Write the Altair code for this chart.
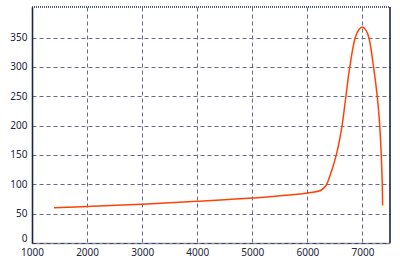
import altair as alt
import pandas as pd

# data
wavelength = [1400, 2000, 3000, 4000, 5000, 6000, 6254, 6344, 6404, 6464, 6525,
              6585, 6630, 6700, 6770, 6870, 6940, 6996, 7060, 7116, 7201, 7268,
              7310, 7340, 7359, 7366]
value = [60, 62, 66, 71, 76.5, 85, 90.3, 98.8, 113, 130, 150,
         176, 200, 250, 300, 350, 364, 368, 363, 350, 300, 250,
         205, 153, 102, 64]
x_ticks = [1000, 2000, 3000, 4000, 5000, 6000, 7000]
y_ticks = [0, 50, 100, 150, 200, 250, 300, 350]

df = pd.DataFrame({"x": wavelength, "y": value})
one = pd.DataFrame({"a": [0]})

W, H = 358, 236
AXIS = "#1c2540"
GRID = "#6a6a88"
FONT = "Noto Sans"

line = alt.Chart(df).mark_line(color="#ff4208", strokeWidth=1.5, interpolate="catmull-rom").encode(
    x=alt.X("x:Q",
            scale=alt.Scale(domain=[1000, 7500], nice=False, zero=False),
            axis=alt.Axis(values=x_ticks, title=None, grid=True, gridDash=[4, 3],
                          gridColor=GRID, gridWidth=1, ticks=False, labelFlush=False,
                          labelPadding=4, domainColor=AXIS, domainDash=[1, 1],
                          domainWidth=1.6, format="d", labelFont=FONT,
                          labelFontSize=10, labelColor=AXIS)),
    y=alt.Y("y:Q",
            scale=alt.Scale(domain=[0, 402], nice=False),
            axis=alt.Axis(values=y_ticks, title=None, grid=True, gridDash=[4, 3],
                          gridColor=GRID, gridWidth=1, ticks=False, labelFlush=True,
                          labelPadding=5, domainColor=AXIS, domainWidth=1.6,
                          format="d", labelFont=FONT, labelFontSize=10,
                          labelColor=AXIS)),
)

top = alt.Chart(one).mark_rule(color=AXIS, strokeDash=[1, 1], strokeWidth=1.6).encode(
    x=alt.value(0), x2=alt.value(W), y=alt.value(0))
right = alt.Chart(one).mark_rule(color=AXIS, strokeWidth=1.6).encode(
    x=alt.value(W), y=alt.value(0), y2=alt.value(H))

chart = alt.layer(line, top, right).properties(
    width=W, height=H,
    padding={"left": 32, "top": 7, "right": 10, "bottom": 23},
    autosize="none",
    background="white",
).configure_view(stroke=None)

chart.save("out.html", embed_options={"renderer": "svg", "actions": False})
